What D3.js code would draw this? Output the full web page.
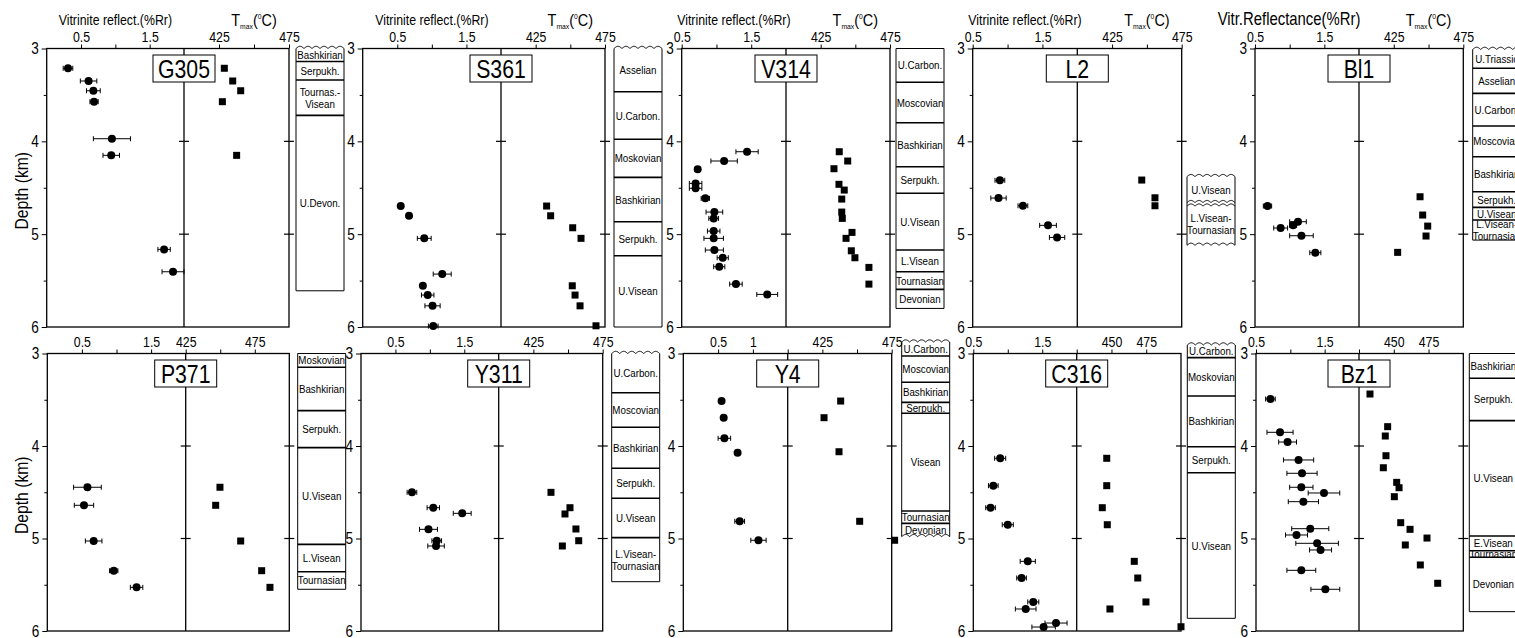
<!DOCTYPE html>
<html>
<head>
<meta charset="utf-8">
<script src="https://cdn.jsdelivr.net/npm/d3@7"></script>
<style>
  body { margin: 0; background: #fff; }
  svg { display: block; font-family: "Liberation Sans", Arial, Helvetica, sans-serif; }
</style>
</head>
<body>
<svg id="chart" width="1515" height="638"></svg>
<script>
// wells, in reading order (top row, then bottom row)
const wells = ['G305', 'S361', 'V314', 'L2', 'Bl1', 'P371', 'Y311', 'Y4', 'C316', 'Bz1']

// vitrinite reflectance: [depth km, %Rr, error]
const roG305 = [[3.213, 0.31, 0.07], [3.35, 0.61, 0.12], [3.455, 0.68, 0.10], [3.573, 0.69, 0.06], [3.972, 0.95, 0.27], [4.151, 0.94, 0.12], [5.164, 1.71, 0.09], [5.405, 1.84, 0.16]]
const roS361 = [[4.697, 0.55, 0], [4.802, 0.67, 0], [5.045, 0.89, 0.10], [5.43, 1.15, 0.13], [5.556, 0.87, 0], [5.656, 0.94, 0.09], [5.772, 1.01, 0.11], [5.99, 1.02, 0.07]]
const roV314 = [[4.112, 1.44, 0.16], [4.212, 1.11, 0.19], [4.302, 0.73, 0.04], [4.453, 0.70, 0.09], [4.506, 0.70, 0.09], [4.614, 0.84, 0.06], [4.762, 0.97, 0.12], [4.83, 0.96, 0.07], [4.967, 0.96, 0.09], [5.045, 0.96, 0.14], [5.171, 0.97, 0.13], [5.254, 1.09, 0.08], [5.351, 1.04, 0.08], [5.538, 1.28, 0.09], [5.649, 1.73, 0.15]]
const roL2 = [[4.42, 0.89, 0.07], [4.611, 0.87, 0.11], [4.694, 1.22, 0.07], [4.905, 1.58, 0.12], [5.035, 1.71, 0.11]]
const roBl1 = [[4.697, 0.68, 0.06], [4.934, 0.87, 0.10], [4.905, 1.05, 0.05], [4.866, 1.12, 0.12], [5.017, 1.17, 0.17], [5.2, 1.37, 0.08]]
const roP371 = [[4.446, 0.58, 0.20], [4.641, 0.53, 0.14], [5.027, 0.67, 0.12], [5.348, 0.96, 0.06], [5.528, 1.29, 0.09]]
const roY311 = [[4.501, 0.74, 0.07], [4.667, 1.05, 0.09], [4.728, 1.47, 0.13], [4.901, 0.98, 0.13], [5.024, 1.10, 0.07], [5.081, 1.09, 0.12]]
const roY4 = [[3.514, 0.55, 0], [3.694, 0.58, 0], [3.917, 0.59, 0.09], [4.072, 0.78, 0], [4.814, 0.81, 0.07], [5.019, 1.08, 0.11]]
const roC316 = [[4.133, 0.89, 0.08], [4.429, 0.79, 0.07], [4.667, 0.75, 0.07], [4.851, 1.0, 0.08], [5.247, 1.29, 0.11], [5.427, 1.20, 0.07], [5.686, 1.37, 0.08], [5.762, 1.26, 0.15], [5.914, 1.70, 0.16], [5.957, 1.52, 0.17]]
const roBz1 = [[3.492, 0.71, 0.07], [3.852, 0.85, 0.19], [3.957, 0.96, 0.13], [4.151, 1.12, 0.22], [4.295, 1.17, 0.22], [4.446, 1.16, 0.17], [4.508, 1.49, 0.23], [4.602, 1.19, 0.22], [4.894, 1.29, 0.27], [4.962, 1.09, 0.16], [5.052, 1.39, 0.31], [5.124, 1.44, 0.16], [5.344, 1.16, 0.21], [5.549, 1.51, 0.21]]

// Tmax: [depth km, degC]
const tmG305 = [[3.213, 428.8], [3.35, 434.8], [3.455, 440.5], [3.573, 427.4], [4.151, 437.6]]
const tmS361 = [[4.697, 432.9], [4.802, 435.8], [4.931, 451.7], [5.045, 457.7], [5.556, 451.4], [5.656, 453.4], [5.772, 457.0], [5.987, 468.5]]
const tmV314 = [[4.112, 438.4], [4.212, 444.5], [4.295, 434.6], [4.463, 438.2], [4.525, 442.0], [4.622, 440.2], [4.762, 440.2], [4.83, 440.6], [4.981, 447.6], [5.045, 443.3], [5.179, 447.1], [5.254, 449.7], [5.358, 459.8], [5.538, 459.8]]
const tmL2 = [[4.417, 446.3], [4.608, 455.8], [4.694, 455.8]]
const tmBl1 = [[4.597, 443.9], [4.794, 445.8], [4.913, 449.4], [5.02, 448.2], [5.196, 427.8]]
const tmP371 = [[4.446, 449.8], [4.641, 446.7], [5.027, 464.8], [5.348, 480.0], [5.528, 486.0]]
const tmY311 = [[4.501, 437.7], [4.667, 451.4], [4.735, 447.8], [4.897, 455.7], [5.024, 457.7], [5.081, 445.9]]
const tmY4 = [[3.514, 438.2], [3.694, 426.2], [4.062, 437.0], [4.814, 451.9], [5.019, 477.1]]
const tmC316 = [[4.133, 446.6], [4.429, 446.6], [4.667, 443.4], [4.851, 447.0], [5.247, 466.4], [5.427, 468.9], [5.686, 474.8], [5.762, 448.9], [5.954, 500.0]]
const tmBz1 = [[3.438, 432.9], [3.791, 445.6], [3.892, 443.9], [4.105, 444.4], [4.235, 442.5], [4.393, 452.1], [4.451, 453.8], [4.548, 450.4], [4.829, 455.0], [4.901, 461.7], [4.995, 473.9], [5.07, 458.3], [5.286, 469.1], [5.484, 481.6]]

// stratigraphy: boundary depths (km) and unit names
const stG305 = [3.0, 3.14, 3.34, 3.72, 5.61]
const nmG305 = ['Bashkirian', 'Serpukh.', 'Tournas.-\nVisean', 'U.Devon.']
const stS361 = [3.0, 3.466, 3.978, 4.388, 4.866, 5.233, 6.0]
const nmS361 = ['Asselian', 'U.Carbon.', 'Moskovian', 'Bashkirian', 'Serpukh.', 'U.Visean']
const stV314 = [3.0, 3.364, 3.80, 4.274, 4.56, 5.171, 5.405, 5.595, 5.80]
const nmV314 = ['U.Carbon.', 'Moscovian', 'Bashkirian', 'Serpukh.', 'U.Visean', 'L.Visean', 'Tournasian', 'Devonian']
const stL2 = [4.38, 4.66, 5.12]
const nmL2 = ['U.Visean', 'L.Visean-\nTournasian']
const stBl1 = [3.01, 3.213, 3.483, 3.835, 4.166, 4.543, 4.711, 4.848, 5.064]
const nmBl1 = ['U.Triassic', 'Asselian', 'U.Carbon.', 'Moscovian', 'Bashkirian', 'Serpukh.', 'U.Visean', 'L.Visean-\nTournasian']
const stP371 = [3.0, 3.149, 3.618, 4.018, 5.063, 5.359, 5.549]
const nmP371 = ['Moskovian', 'Bashkirian', 'Serpukh.', 'U.Visean', 'L.Visean', 'Tournasian']
const stY311 = [3.0, 3.424, 3.798, 4.241, 4.565, 4.991, 5.467]
const nmY311 = ['U.Carbon.', 'Moscovian', 'Bashkirian', 'Serpukh.', 'U.Visean', 'L.Visean-\nTournasian']
const stY4 = [2.876, 3.027, 3.311, 3.528, 3.646, 4.703, 4.836, 4.98]
const nmY4 = ['U.Carbon.', 'Moscovian', 'Bashkirian', 'Serpukh.', 'Visean', 'Tournasian', 'Devonian']
const stC316 = [2.908, 3.045, 3.459, 4.008, 4.289, 5.863]
const nmC316 = ['U.Carbon.', 'Moskovian', 'Bashkirian', 'Serpukh.', 'U.Visean']
const stBz1 = [3.0, 3.268, 3.726, 4.973, 5.132, 5.203, 5.791]
const nmBz1 = ['Bashkirian', 'Serpukh.', 'U.Visean', 'E.Visean', 'Tournasian', 'Devonian']

// tick labels
const depthTicks = [3, 4, 5, 6]
const roTickLabels = [[0.5, 1.5], [0.5, 1.5], [0.5, 1.5], [0.5, 1.5], [0.5, 1.5], [0.5, 1.5], [0.5, 1.5], [0.5, 1], [0.5, 1.5], [0.5, 1.5]]
const tmTickLabels = [[425, 475], [425, 475], [425, 475], [425, 475], [425, 475], [425, 475], [425, 475], [425, 475], [450, 475], [450, 475]]
const roTitles = ['Vitrinite reflect.(%Rr)', 'Vitrinite reflect.(%Rr)', 'Vitrinite reflect.(%Rr)', 'Vitrinite reflect.(%Rr)', 'Vitr.Reflectance(%Rr)']

const roData = [roG305, roS361, roV314, roL2, roBl1, roP371, roY311, roY4, roC316, roBz1]
const tmData = [tmG305, tmS361, tmV314, tmL2, tmBl1, tmP371, tmY311, tmY4, tmC316, tmBz1]
const stData = [stG305, stS361, stV314, stL2, stBl1, stP371, stY311, stY4, stC316, stBz1]
const nmData = [nmG305, nmS361, nmV314, nmL2, nmBl1, nmP371, nmY311, nmY4, nmC316, nmBz1]

// layout: plot edges (left, divider, right), row, axis domains, column x, wavy boundaries
const rowY = [[48.5, 327], [353.5, 631]]
const layout = [
  { x0: 46.7, xm: 184, x1: 289, row: 0, ro: [0, 2], tm: [400, 475], cx: 296, wavy: [0] },
  { x0: 362.7, xm: 501, x1: 605, row: 0, ro: [0, 2], tm: [400, 475], cx: 614, wavy: [0] },
  { x0: 681.7, xm: 786, x1: 890, row: 0, ro: [0.5, 2], tm: [400, 475], cx: 896, wavy: [] },
  { x0: 972.7, xm: 1077.3, x1: 1181.7, row: 0, ro: [0.5, 2], tm: [400, 475], cx: 1187, wavy: [0, 1, 2], split: true },
  { x0: 1255, xm: 1359, x1: 1463.3, row: 0, ro: [0.5, 2], tm: [400, 475], cx: 1472.7, wavy: [0], titleX: 1289, titleSize: 17.5 },
  { x0: 47.3, xm: 185.7, x1: 289.3, row: 1, ro: [0, 2], tm: [425, 500], cx: 297.7, wavy: [] },
  { x0: 361, xm: 498.7, x1: 602.7, row: 1, ro: [0, 2], tm: [400, 475], cx: 611.7, wavy: [0] },
  { x0: 683.3, xm: 787.7, x1: 891.7, row: 1, ro: [0, 1.5], tm: [400, 475], cx: 901.7, wavy: [0, 7] },
  { x0: 973.3, xm: 1076.7, x1: 1181, row: 1, ro: [0.5, 2], tm: [425, 500], cx: 1187.3, wavy: [0] },
  { x0: 1256, xm: 1359, x1: 1463.3, row: 1, ro: [0.5, 2], tm: [425, 500], cx: 1469.3, wavy: [] }
]
const squeeze = 0.85 // the figure uses a condensed sans face

const svg = d3.select('#chart')
svg.append('rect').attr('width', 1515).attr('height', 638).attr('fill', '#fff')

function wavy (x0, x1, yy, amp) {
  const n = Math.max(1, Math.round((x1 - x0) / 8))
  const wl = (x1 - x0) / n
  const pts = d3.range(0, x1 - x0 + 0.01, 0.5)
    .map(t => [x0 + t, yy - amp * Math.abs(Math.sin(Math.PI * t / wl))])
  return d3.line()(pts)
}

function styleAxis (sel, size) {
  sel.attr('font-family', null).attr('font-size', size)
  sel.select('.domain').remove()
  sel.selectAll('line').attr('stroke', '#000')
  sel.selectAll('text').attr('fill', '#000')
}

layout.forEach((p, i) => {
  const [yTop, yBot] = rowY[p.row]
  const y = d3.scaleLinear().domain([3, 6]).range([yTop, yBot])
  const xr = d3.scaleLinear().domain(p.ro).range([p.x0, p.xm])
  const xt = d3.scaleLinear().domain(p.tm).range([p.xm, p.x1])
  const g = svg.append('g')

  // depth axis
  const ya = g.append('g').attr('transform', `translate(${p.x0},0)`)
    .call(d3.axisLeft(y).tickValues([3, 3.5, 4, 4.5, 5, 5.5, 6]).tickSize(5).tickPadding(3)
      .tickFormat(d => depthTicks.includes(d) ? d : ''))
  styleAxis(ya, 16)
  ya.selectAll('.tick line').attr('x2', d => depthTicks.includes(d) ? -5 : -3)

  // top axes
  const ra = g.append('g').attr('transform', `translate(0,${yTop})`)
    .call(d3.axisTop(xr).tickValues([0.5, 1, 1.5].filter(v => v >= p.ro[0] && v <= p.ro[1]))
      .tickSize(4).tickPadding(3)
      .tickFormat(d => roTickLabels[i].includes(d) ? d : ''))
  styleAxis(ra, 14.5)
  const ta = g.append('g').attr('transform', `translate(0,${yTop})`)
    .call(d3.axisTop(xt).tickValues([425, 450, 475].filter(v => v >= p.tm[0] && v <= p.tm[1]))
      .tickSize(4).tickPadding(3)
      .tickFormat(d => tmTickLabels[i].includes(d) ? d : ''))
  styleAxis(ta, 14.5)

  // frame and divider
  g.append('rect').attr('x', p.x0).attr('y', yTop).attr('width', p.x1 - p.x0).attr('height', yBot - yTop)
    .attr('fill', 'none').attr('stroke', '#000').attr('stroke-width', 1.3)
  g.append('line').attr('x1', p.xm).attr('x2', p.xm).attr('y1', yTop).attr('y2', yBot)
    .attr('stroke', '#000').attr('stroke-width', 1.3)
  g.selectAll('.cross')
    .data([4, 5].flatMap(d => [[p.xm, d], [p.x1, d]]))
    .enter().append('line')
    .attr('x1', d => d[0] - 5).attr('x2', d => d[0] + 5)
    .attr('y1', d => y(d[1])).attr('y2', d => y(d[1]))
    .attr('stroke', '#000').attr('stroke-width', 1.2)

  // headers (top row only)
  if (p.row === 0) {
    g.append('text')
      .attr('x', p.titleX || (p.x0 + p.xm) / 2).attr('y', yTop - 23.5)
      .attr('text-anchor', 'middle').attr('font-size', p.titleSize || 14.5)
      .text(roTitles[i])
    const th = g.append('text').attr('x', xt(450)).attr('y', yTop - 22)
      .attr('text-anchor', 'middle').attr('font-size', 17)
    th.append('tspan').text('T')
    th.append('tspan').attr('font-size', 8).attr('dy', 3).text('max')
    th.append('tspan').attr('dy', -3).text('(')
    th.append('tspan').attr('font-size', 8).attr('dy', -7).text('0')
    th.append('tspan').attr('dy', 7).text('C)')
  }
  if (i === 0 || i === 5) {
    g.append('text')
      .attr('transform', `translate(28,${(yTop + yBot) / 2 + 3}) rotate(-90)`)
      .attr('text-anchor', 'middle').attr('font-size', 18.5)
      .text('Depth (km)')
  }

  // well name box
  g.append('rect').attr('x', p.xm - 31).attr('y', yTop + 6.5).attr('width', 62).attr('height', 27)
    .attr('fill', '#fff').attr('stroke', '#000').attr('stroke-width', 1)
  g.append('text').attr('x', p.xm).attr('y', yTop + 30)
    .attr('text-anchor', 'middle').attr('font-size', 25)
    .text(wells[i])

  // vitrinite error bars and points
  const eb = g.selectAll('.eb').data(roData[i].filter(d => d[2] > 0)).enter().append('g')
    .attr('stroke', '#000').attr('stroke-width', 1)
  eb.append('line')
    .attr('x1', d => xr(d[1] - d[2])).attr('x2', d => xr(d[1] + d[2]))
    .attr('y1', d => y(d[0])).attr('y2', d => y(d[0]))
  eb.append('line')
    .attr('x1', d => xr(d[1] - d[2])).attr('x2', d => xr(d[1] - d[2]))
    .attr('y1', d => y(d[0]) - 2.5).attr('y2', d => y(d[0]) + 2.5)
  eb.append('line')
    .attr('x1', d => xr(d[1] + d[2])).attr('x2', d => xr(d[1] + d[2]))
    .attr('y1', d => y(d[0]) - 2.5).attr('y2', d => y(d[0]) + 2.5)
  g.selectAll('.ro').data(roData[i]).enter().append('circle')
    .attr('cx', d => xr(d[1])).attr('cy', d => y(d[0])).attr('r', 4)
    .attr('fill', '#000')

  // Tmax points
  g.selectAll('.tm').data(tmData[i]).enter().append('rect')
    .attr('x', d => xt(d[1]) - 3.5).attr('y', d => y(d[0]) - 3.5)
    .attr('width', 7).attr('height', 7).attr('fill', '#000')

  // stratigraphic column
  const st = stData[i]
  const xa = p.cx
  const xb = p.cx + 48
  const sg = g.append('g').attr('stroke', '#000').attr('fill', 'none')
  sg.selectAll('.side').data([xa, xb]).enter().append('line')
    .attr('x1', d => d).attr('x2', d => d)
    .attr('y1', y(st[0])).attr('y2', y(st[st.length - 1]))
    .attr('stroke-width', 1)
  st.forEach((d, k) => {
    const edge = k === 0 || k === st.length - 1
    if (p.wavy.includes(k)) {
      sg.append('path').attr('d', wavy(xa, xb, y(d), 2.2)).attr('stroke-width', 1)
      if (p.split && !edge) {
        sg.append('path').attr('d', wavy(xa, xb, y(d) + 3.5, 2.2)).attr('stroke-width', 1)
      }
    } else {
      sg.append('line').attr('x1', xa).attr('x2', xb).attr('y1', y(d)).attr('y2', y(d))
        .attr('stroke-width', edge ? 1 : 1.6)
    }
  })
  nmData[i].forEach((name, k) => {
    const lines = name.split('\n')
    const ym = (y(st[k]) + y(st[k + 1])) / 2
    const t = g.append('text').attr('x', (xa + xb) / 2).attr('text-anchor', 'middle')
      .attr('font-size', 11.5)
    lines.forEach((ln, j) => {
      t.append('tspan').attr('x', (xa + xb) / 2)
        .attr('y', ym + 4 + (j - (lines.length - 1) / 2) * 12)
        .text(ln)
    })
  })
})

// condense every text horizontally around its anchor
svg.selectAll('text').each(function () {
  const t = d3.select(this)
  const x = +t.attr('x') || 0
  const prev = t.attr('transform') || ''
  t.attr('transform', `${prev} translate(${x},0) scale(${squeeze},1) translate(${-x},0)`)
})
</script>
</body>
</html>
